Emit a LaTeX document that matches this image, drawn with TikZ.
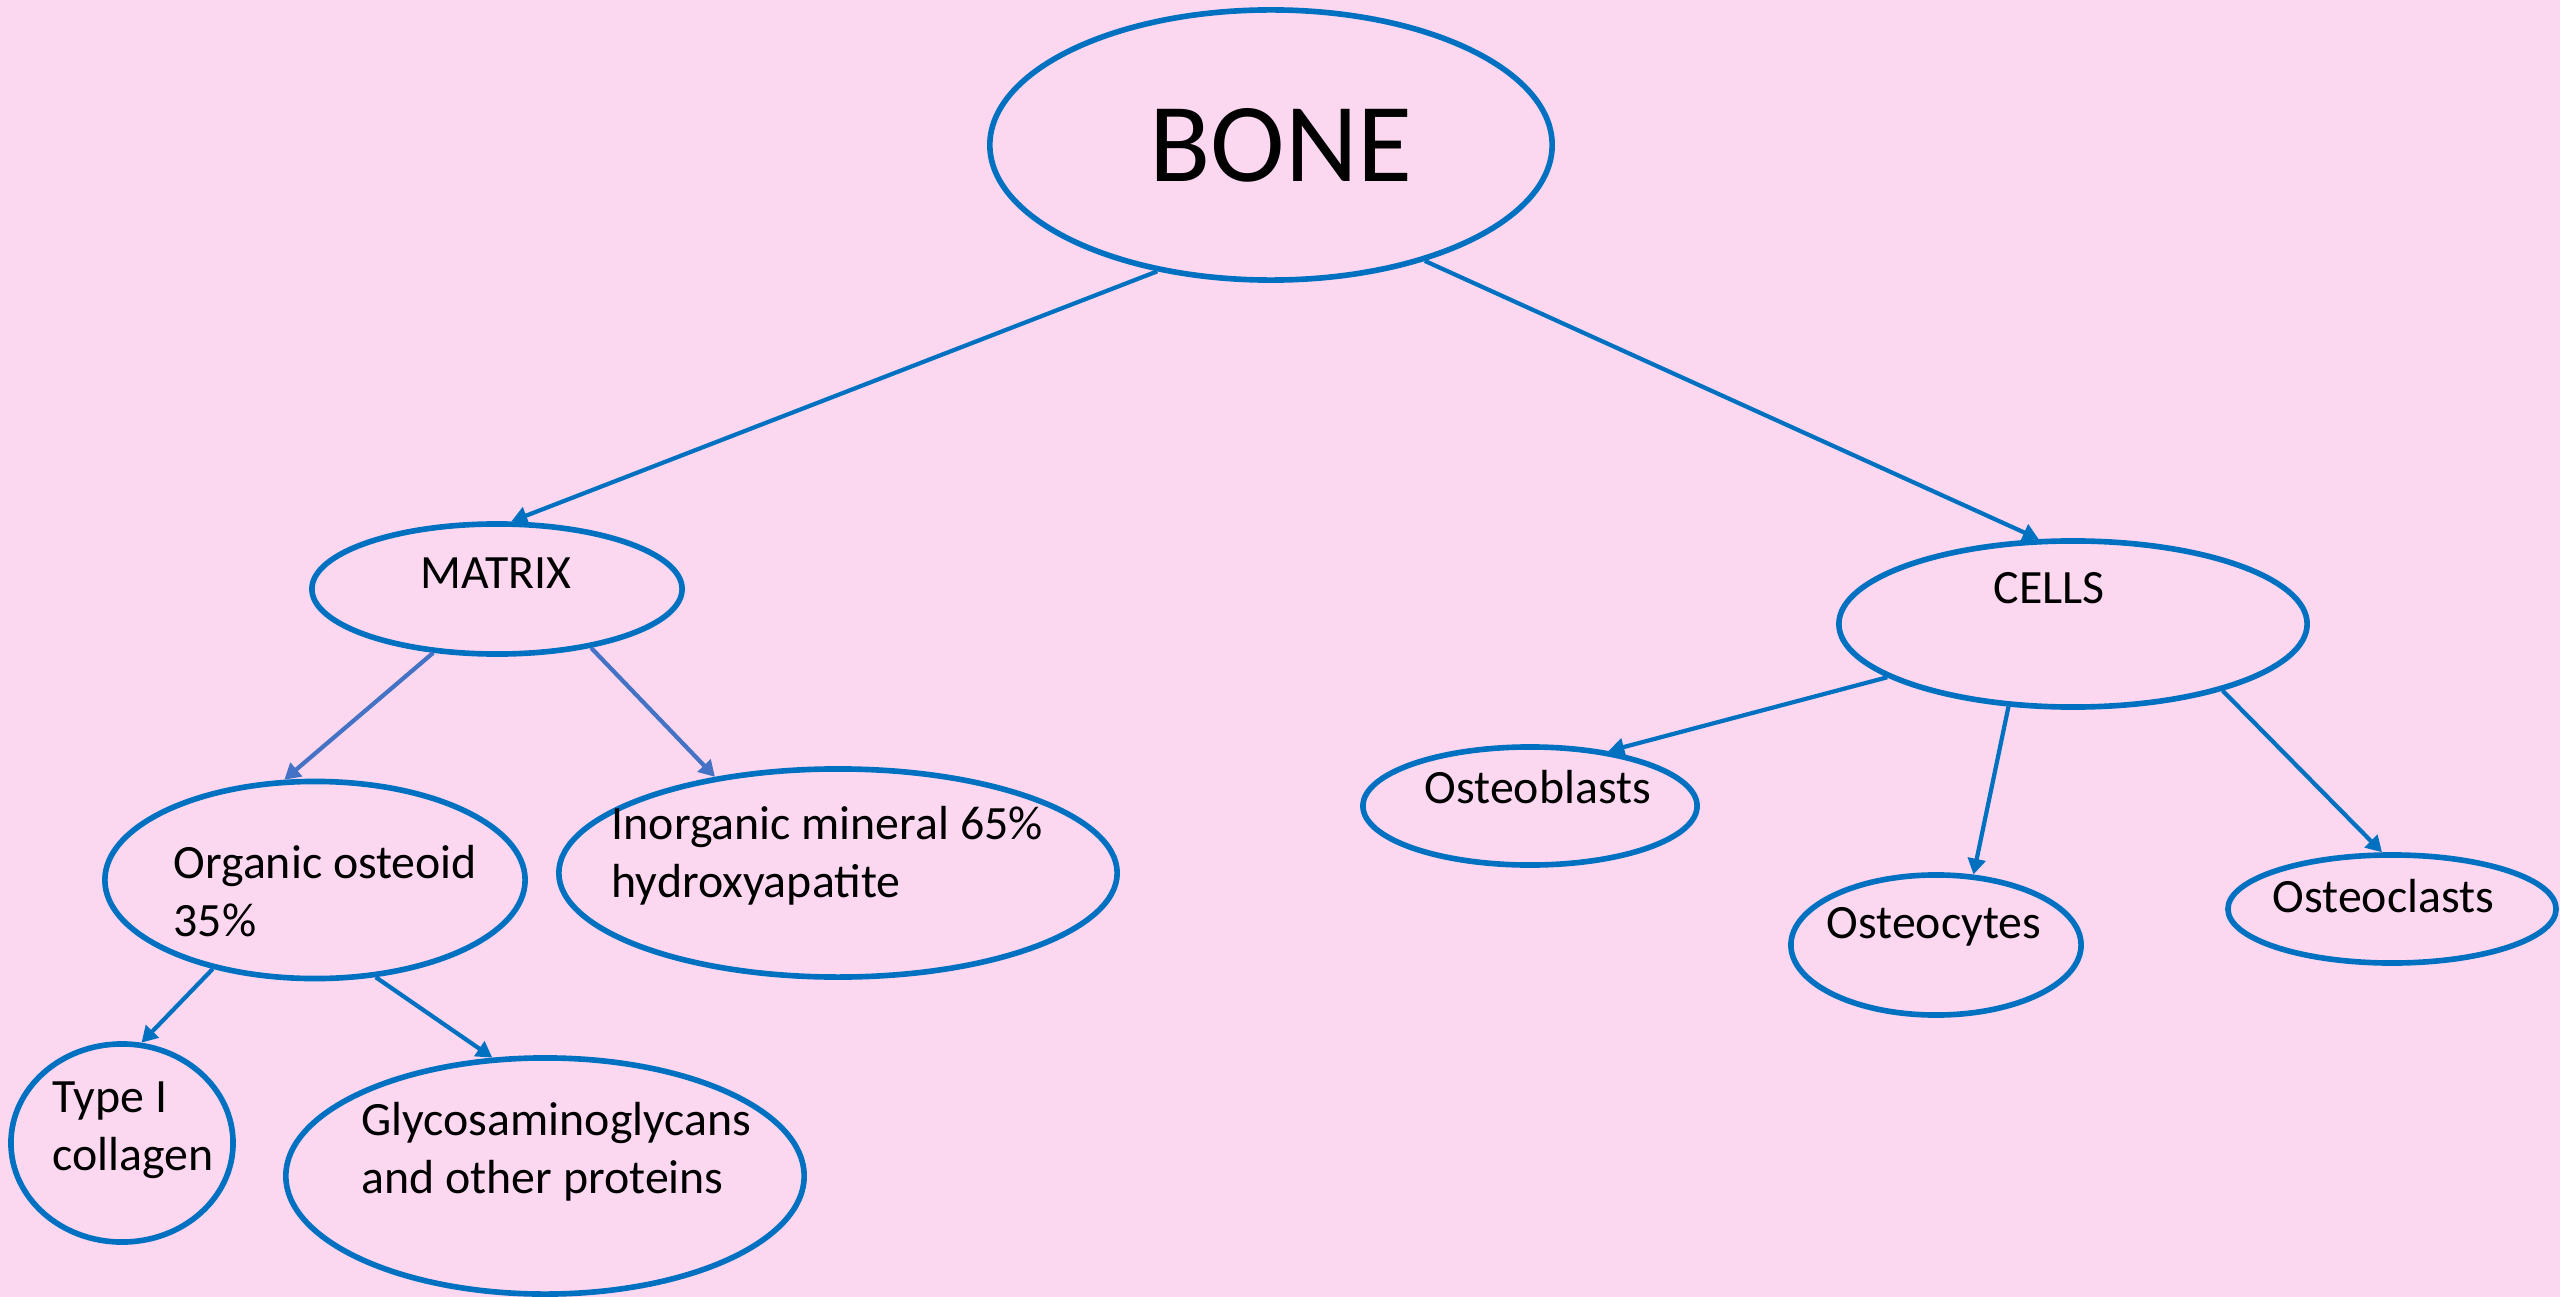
\documentclass[tikz,border=0pt]{standalone}
\usepackage{fontspec}
\setmainfont{Carlito}
\usetikzlibrary{shapes.geometric,arrows.meta}
\definecolor{bg}{RGB}{251,216,240}
\definecolor{lineblue}{RGB}{0,112,192}
\definecolor{softblue}{RGB}{68,114,196}
\newcommand{\pxu}{0.28453pt}
\tikzset{
  oval/.style={ellipse, draw=lineblue, line width=1.6pt, inner sep=0pt},
  lbl/.style={anchor=base west, inner sep=0pt, align=left, font=\fontsize{13.6}{16.3}\selectfont},
  conn/.style={draw=lineblue, line width=1.2pt, -{Triangle[length=4.5pt,width=5pt]}},
  conn2/.style={conn, draw=softblue},
}
\begin{document}
\begin{tikzpicture}[x=0.01cm, y=-0.01cm]
\fill[bg] (0,0) rectangle (2560,1297);
\useasboundingbox (0,0) rectangle (2560,1297);

% ellipses
\node[oval, minimum width=562*\pxu, minimum height=270*\pxu] (bone) at (1271,145) {};
\node[oval, minimum width=370*\pxu, minimum height=130*\pxu] (matrix) at (497,589) {};
\node[oval, minimum width=468*\pxu, minimum height=166*\pxu] (cells) at (2073,624) {};
\node[oval, minimum width=420*\pxu, minimum height=197*\pxu] (organic) at (315,880) {};
\node[oval, minimum width=558*\pxu, minimum height=208*\pxu] (inorganic) at (838,873) {};
\node[oval, minimum width=222*\pxu, minimum height=198*\pxu] (collagen) at (122,1143) {};
\node[oval, minimum width=518*\pxu, minimum height=236*\pxu] (glyco) at (545,1176) {};
\node[oval, minimum width=334*\pxu, minimum height=118*\pxu] (blasts) at (1530,806) {};
\node[oval, minimum width=290*\pxu, minimum height=140*\pxu] (cytes) at (1936,945) {};
\node[oval, minimum width=328*\pxu, minimum height=108*\pxu] (clasts) at (2392,909) {};

% texts (multi-line nodes are placed by the baseline of their last line)
\node[anchor=base, inner sep=0pt, font=\fontsize{32}{38}\selectfont] (tbone) at (1281,182) {BONE};
\node[lbl] (tmatrix) at (420,588) {MATRIX};
\node[lbl] (tcells) at (1993,603) {CELLS};
\node[lbl] (torganic) at (173,936) {Organic osteoid\\35\%};
\node[lbl] (tinorganic) at (611,897) {Inorganic mineral 65\%\\hydroxyapatite};
\node[lbl] (tcollagen) at (52,1170) {Type I\\collagen};
\node[lbl] (tglyco) at (361,1193) {Glycosaminoglycans\\and other proteins};
\node[lbl] (tblasts) at (1424,803) {Osteoblasts};
\node[lbl] (tcytes) at (1826,938) {Osteocytes};
\node[lbl] (tclasts) at (2272,912) {Osteoclasts};

% connectors
\draw[conn] (bone.-132.9) -- (matrix.78.2);
\draw[conn] (bone.-37.5) -- (cells.112.3);
\draw[conn2] (matrix.-135) -- (organic.107);
\draw[conn2] (matrix.-32.2) -- (inorganic.142.5);
\draw[conn] (organic.-139) -- (collagen.79.5);
\draw[conn] (organic.-58.7) -- (glyco.114.7);
\draw[conn] (cells.-164.5) -- (blasts.35.7);
\draw[conn] (cells.-128.4) -- (cytes.62.8);
\draw[conn] (cells.-24.5) -- (clasts.100);
\end{tikzpicture}
\end{document}
